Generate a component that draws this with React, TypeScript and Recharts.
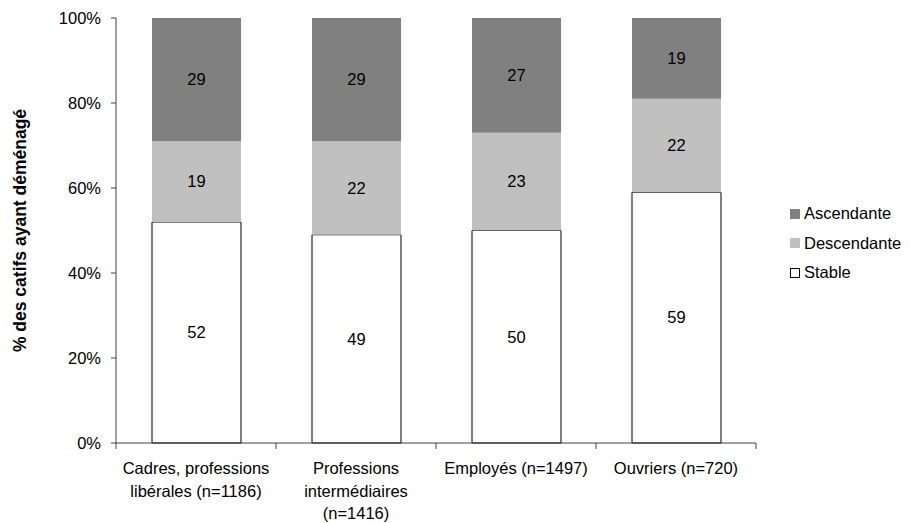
import { BarChart, Bar, XAxis, YAxis, LabelList } from 'recharts'

// categories and shares (%) of movers by mobility direction
const categories = [
  'Cadres, professions\nlibérales (n=1186)',
  'Professions\nintermédiaires\n(n=1416)',
  'Employés (n=1497)',
  'Ouvriers (n=720)',
]
const stable = [52, 49, 50, 59]
const descendante = [19, 22, 23, 22]
const ascendante = [29, 29, 27, 19]
const yTicks = [0, 20, 40, 60, 80, 100]

const data = categories.map((name, i) => ({
  name,
  stable: stable[i],
  descendante: descendante[i],
  ascendante: ascendante[i],
}))

const FONT = '"Liberation Sans", Arial, sans-serif'
const FS = 16.5
const AXIS = '#404040'
const DARK = '#808080'
const LIGHT = '#c0c0c0'

const W = 911
const H = 523
const PLOT_LEFT = 116
const PLOT_RIGHT = 756
const BAND = (PLOT_RIGHT - PLOT_LEFT) / categories.length

const CategoryTick = (props: any) => {
  const { x, y, payload, index } = props
  const lines = String(payload.value).split('\n')
  return (
    <g>
      <line x1={x - BAND / 2} x2={x - BAND / 2} y1={y} y2={y + 6} stroke={AXIS} />
      {index === categories.length - 1 && (
        <line x1={x + BAND / 2} x2={x + BAND / 2} y1={y} y2={y + 6} stroke={AXIS} />
      )}
      {lines.map((l, i) => (
        <text
          key={i}
          x={x}
          y={y + 31 + i * 22.5}
          textAnchor="middle"
          fontFamily={FONT}
          fontSize={FS}
          fill="#000"
        >
          {l}
        </text>
      ))}
    </g>
  )
}

const legendItems = [
  { label: 'Ascendante', fill: DARK, stroke: DARK },
  { label: 'Descendante', fill: LIGHT, stroke: LIGHT },
  { label: 'Stable', fill: '#fff', stroke: '#000' },
]

const App = () => {
  return (
    <div style={{ position: 'absolute', left: 0, top: 0, width: W, height: H, fontFamily: FONT, overflow: 'hidden' }}>
      <BarChart
        width={W}
        height={H}
        data={data}
        margin={{ top: 18, right: W - PLOT_RIGHT, bottom: 0, left: 0 }}
        barSize={89}
      >
        <XAxis
          dataKey="name"
          tickLine={false}
          tickSize={0}
          tickMargin={0}
          axisLine={{ stroke: AXIS }}
          tick={<CategoryTick />}
          interval={0}
          height={80}
        />
        <YAxis
          width={PLOT_LEFT}
          domain={[0, 100]}
          ticks={yTicks}
          tickFormatter={(v) => `${v}%`}
          axisLine={{ stroke: AXIS }}
          tickLine={{ stroke: AXIS }}
          tickSize={5}
          tickMargin={10}
          tick={{ fill: '#000', fontSize: FS, fontFamily: FONT }}
          label={{
            content: (p: any) => {
              const vb = p.viewBox
              const cy = vb.y + vb.height / 2
              return (
                <text
                  x={21}
                  y={cy}
                  transform={`rotate(-90, 21, ${cy})`}
                  textAnchor="middle"
                  dominantBaseline="middle"
                  fontFamily={FONT}
                  fontSize={17.5}
                  fontWeight="bold"
                  fill="#000"
                >
                  % des catifs ayant déménagé
                </text>
              )
            },
          }}
        />
        <Bar dataKey="stable" stackId="a" fill="#fff" stroke="#000" strokeWidth={1} isAnimationActive={false}>
          <LabelList dataKey="stable" position="center" fill="#000" fontSize={FS} fontFamily={FONT} />
        </Bar>
        <Bar dataKey="descendante" stackId="a" fill={LIGHT} isAnimationActive={false}>
          <LabelList dataKey="descendante" position="center" fill="#000" fontSize={FS} fontFamily={FONT} />
        </Bar>
        <Bar dataKey="ascendante" stackId="a" fill={DARK} isAnimationActive={false}>
          <LabelList dataKey="ascendante" position="center" fill="#000" fontSize={FS} fontFamily={FONT} />
        </Bar>
      </BarChart>
      <div style={{ position: 'absolute', left: 790, top: 199 }}>
        {legendItems.map((it) => (
          <div key={it.label} style={{ display: 'flex', alignItems: 'center', height: 29.5, fontSize: FS }}>
            <span
              style={{
                display: 'inline-block',
                width: 8,
                height: 8,
                background: it.fill,
                border: `1px solid ${it.stroke}`,
                marginRight: 4,
              }}
            />
            {it.label}
          </div>
        ))}
      </div>
    </div>
  )
}

export default App
